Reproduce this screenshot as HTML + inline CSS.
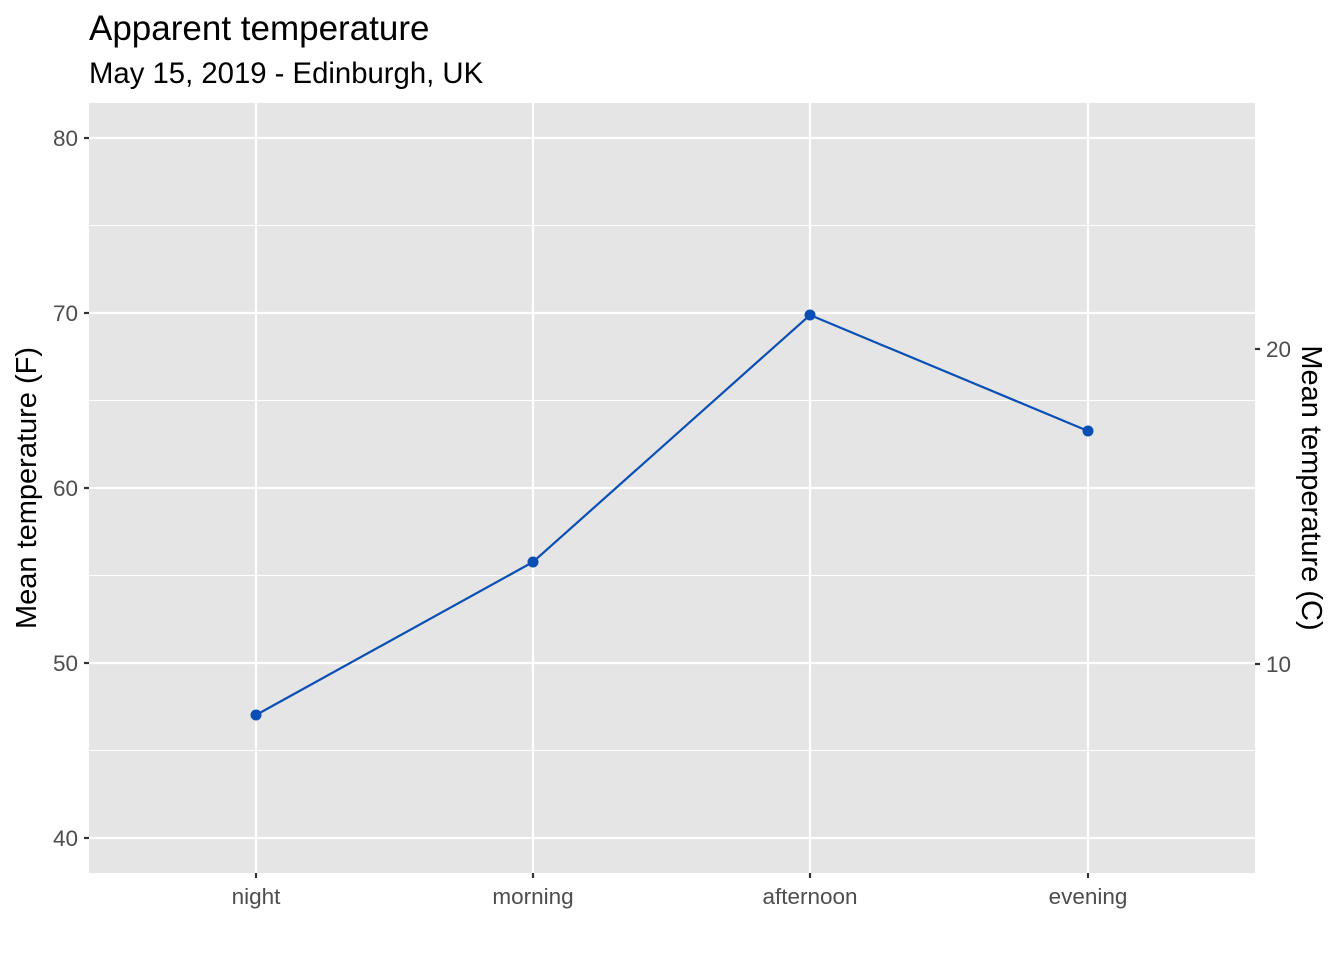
<!DOCTYPE html>
<html><head><meta charset="utf-8"><style>body{margin:0;background:#fff}svg{display:block}</style></head>
<body>
<svg width="1344" height="960" xmlns="http://www.w3.org/2000/svg" font-family="Liberation Sans, Arial, sans-serif">
<rect x="89" y="103" width="1166" height="770" fill="#e5e5e5"/>
<g stroke="#fff" stroke-width="1.1">
<line x1="89" x2="1255" y1="225.5" y2="225.5"/><line x1="89" x2="1255" y1="400.5" y2="400.5"/>
<line x1="89" x2="1255" y1="575.5" y2="575.5"/><line x1="89" x2="1255" y1="750.5" y2="750.5"/>
</g>
<g stroke="#fff" stroke-width="2.2">
<line x1="89" x2="1255" y1="138" y2="138"/><line x1="89" x2="1255" y1="313" y2="313"/>
<line x1="89" x2="1255" y1="488" y2="488"/><line x1="89" x2="1255" y1="663" y2="663"/>
<line x1="89" x2="1255" y1="838" y2="838"/>
<line x1="256" x2="256" y1="103" y2="873"/><line x1="533" x2="533" y1="103" y2="873"/>
<line x1="810" x2="810" y1="103" y2="873"/><line x1="1088" x2="1088" y1="103" y2="873"/>
</g>
<g stroke="#333" stroke-width="2.2">
<line x1="84" x2="89" y1="138" y2="138"/><line x1="84" x2="89" y1="313" y2="313"/>
<line x1="84" x2="89" y1="488" y2="488"/><line x1="84" x2="89" y1="663" y2="663"/>
<line x1="84" x2="89" y1="838" y2="838"/>
<line x1="1255" x2="1260" y1="349" y2="349"/><line x1="1255" x2="1260" y1="664" y2="664"/>
<line x1="256" x2="256" y1="873" y2="878"/><line x1="533" x2="533" y1="873" y2="878"/>
<line x1="810" x2="810" y1="873" y2="878"/><line x1="1088" x2="1088" y1="873" y2="878"/>
</g>
<g fill="#4d4d4d" font-size="22.5" text-anchor="end">
<text x="78" y="146">80</text><text x="78" y="321">70</text><text x="78" y="496">60</text>
<text x="78" y="671">50</text><text x="78" y="846">40</text>
</g>
<g fill="#4d4d4d" font-size="22.5" text-anchor="start">
<text x="1266" y="357">20</text><text x="1266" y="672">10</text>
</g>
<g fill="#4d4d4d" font-size="22.5" text-anchor="middle">
<text x="256" y="904">night</text><text x="533" y="904">morning</text>
<text x="810" y="904">afternoon</text><text x="1088" y="904">evening</text>
</g>
<polyline points="256,715 533,562 810,315 1088,431" fill="none" stroke="#0a4fb5" stroke-width="2.2"/>
<g fill="#0a4fb5"><circle cx="256" cy="715" r="5.5"/><circle cx="533" cy="562" r="5.5"/><circle cx="810" cy="315" r="5.5"/><circle cx="1088" cy="431" r="5.5"/></g>
<text x="89" y="40" font-size="35">Apparent temperature</text>
<text x="89" y="83" font-size="29.3">May 15, 2019 - Edinburgh, UK</text>
<text transform="translate(36,488) rotate(-90)" text-anchor="middle" font-size="29">Mean temperature (F)</text>
<text transform="translate(1302,488) rotate(90)" text-anchor="middle" font-size="29">Mean temperature (C)</text>
</svg>
</body></html>
